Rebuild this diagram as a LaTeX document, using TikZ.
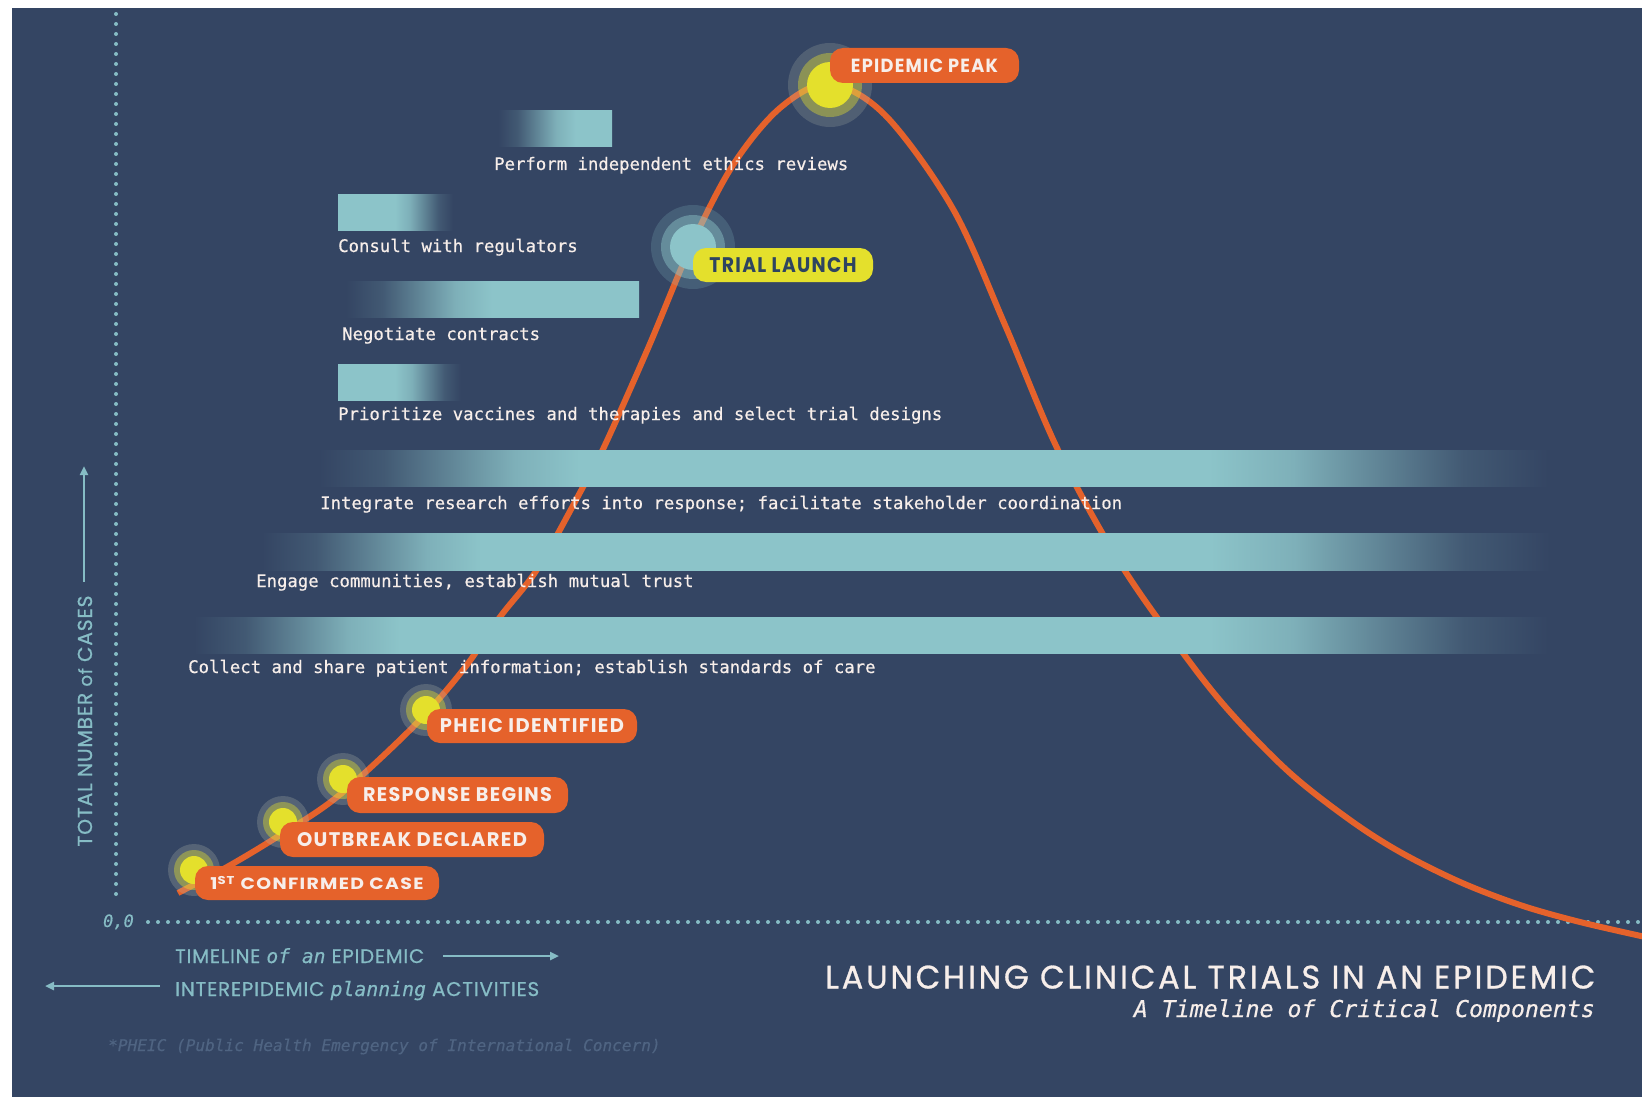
\documentclass[tikz,border=0pt]{standalone}
\usepackage{fontspec}
\usepackage{graphicx}
\setmainfont{Poppins}
\newfontfamily\monof{DejaVu Sans Mono}[FakeBold=0.5]
\newfontfamily\labf{Poppins}[LetterSpace=7]
\newfontfamily\titf{Poppins}[LetterSpace=9, FakeBold=0.9]
\newfontfamily\axf{Poppins}[LetterSpace=4, FakeBold=0.8]
\usetikzlibrary{arrows.meta}
\definecolor{bgblue}{HTML}{344563}
\definecolor{tealc}{HTML}{8CC4C9}
\definecolor{orangec}{HTML}{E5622B}
\definecolor{yellowc}{HTML}{E4E02C}
\definecolor{txtw}{HTML}{F7EEEA}
\definecolor{axisc}{HTML}{86BCC5}
\definecolor{footc}{HTML}{4F6482}
\definecolor{darkt}{HTML}{2E4460}
\definecolor{halogray}{HTML}{B8BDB0}
% one shading per activity bar (25bp..75bp span the bar), smoothstep fades
\pgfdeclarehorizontalshading{barA}{100bp}{color(0bp)=(bgblue); color(25bp)=(bgblue); color(33.5bp)=(tealc!16!bgblue); color(42bp)=(tealc!50!bgblue); color(50.5bp)=(tealc!84!bgblue); color(59bp)=(tealc); color(100bp)=(tealc)}
\pgfdeclarehorizontalshading{barB}{100bp}{color(0bp)=(tealc); color(49.8bp)=(tealc); color(56.1bp)=(tealc!84!bgblue); color(62.4bp)=(tealc!50!bgblue); color(68.7bp)=(tealc!16!bgblue); color(75bp)=(bgblue); color(100bp)=(bgblue)}
\pgfdeclarehorizontalshading{barC}{100bp}{color(0bp)=(bgblue); color(25bp)=(bgblue); color(31.2bp)=(tealc!16!bgblue); color(37.45bp)=(tealc!50!bgblue); color(43.7bp)=(tealc!84!bgblue); color(49.9bp)=(tealc); color(100bp)=(tealc)}
\pgfdeclarehorizontalshading{barD}{100bp}{color(0bp)=(tealc); color(48.2bp)=(tealc); color(54.9bp)=(tealc!84!bgblue); color(61.6bp)=(tealc!50!bgblue); color(68.3bp)=(tealc!16!bgblue); color(75bp)=(bgblue); color(100bp)=(bgblue)}
\pgfdeclarehorizontalshading{barE}{100bp}{color(0bp)=(bgblue); color(25bp)=(bgblue); color(27.65bp)=(tealc!16!bgblue); color(30.3bp)=(tealc!50!bgblue); color(32.95bp)=(tealc!84!bgblue); color(35.6bp)=(tealc); color(61.2bp)=(tealc); color(64.65bp)=(tealc!84!bgblue); color(68.1bp)=(tealc!50!bgblue); color(71.55bp)=(tealc!16!bgblue); color(75bp)=(bgblue); color(100bp)=(bgblue)}
\pgfdeclarehorizontalshading{barF}{100bp}{color(0bp)=(bgblue); color(25bp)=(bgblue); color(27.1bp)=(tealc!16!bgblue); color(29.25bp)=(tealc!50!bgblue); color(31.4bp)=(tealc!84!bgblue); color(33.5bp)=(tealc); color(61.8bp)=(tealc); color(65.1bp)=(tealc!84!bgblue); color(68.4bp)=(tealc!50!bgblue); color(71.7bp)=(tealc!16!bgblue); color(75bp)=(bgblue); color(100bp)=(bgblue)}
\pgfdeclarehorizontalshading{barG}{100bp}{color(0bp)=(bgblue); color(25bp)=(bgblue); color(26.9bp)=(tealc!16!bgblue); color(28.8bp)=(tealc!50!bgblue); color(30.7bp)=(tealc!84!bgblue); color(32.6bp)=(tealc); color(62.5bp)=(tealc); color(65.6bp)=(tealc!84!bgblue); color(68.75bp)=(tealc!50!bgblue); color(71.9bp)=(tealc!16!bgblue); color(75bp)=(bgblue); color(100bp)=(bgblue)}
\newcommand\fitbox[3]{\resizebox{#1pt}{#2pt}{#3}}
\newcommand\fitw[2]{\resizebox{#1pt}{!}{#2}}
\tikzset{
 bartext/.style={anchor=base west, inner sep=0pt, text=txtw, font=\monof\fontsize{17.3}{20}\selectfont},
 evlabel/.style={fill=orangec, rounded corners=13pt, inner sep=0pt, text=txtw, font=\labf\bfseries},
 dotpat/.style={draw=axisc, line width=4pt, line cap=round, dash pattern=on 0pt off 10pt},
 axisarrow/.style={draw=axisc, line width=2.6pt, -{Triangle[length=9pt,width=8pt]}},
}
\begin{document}
\begin{tikzpicture}[x=1pt,y=-1pt]
\useasboundingbox (0,0) rectangle (1642,1097);
\fill[white] (0,0) rectangle (1642,1097);
\fill[bgblue] (12,8) rectangle (1642,1097);

% axes
\coordinate (vtop) at (116,14);
\coordinate (vbot) at (116,895);
\draw[dotpat] (vtop) -- (vbot);
\coordinate (hl) at (148,922);
\coordinate (hr) at (1645,922);
\draw[dotpat] (hl) -- (hr);
\node[anchor=base east, inner sep=0pt, text=axisc, font=\monof\itshape\fontsize{17}{20}\selectfont] (origin) at (134,927) {0,0};

% epidemic curve
\draw[orangec, line width=6pt] plot[smooth, tension=0.55] coordinates {
 (178,893) (227,867) (277,837) (337,797) (413,727) (463,670) (500,617) (538,568)
 (583,487) (605,445) (649,346) (691,246) (733,165) (780,108) (829,84) (885,115)
 (953,209) (1005,325) (1058,450) (1120,563) (1183,653) (1230,712) (1290,773)
 (1350,820) (1400,852) (1460,882) (1520,905) (1580,922) (1650,938)};

% activity bars
\shade[shading=barA] (498,111) rectangle (612,147);
\shade[shading=barB] (338,195) rectangle (453,230);
\shade[shading=barC] (346,281) rectangle (639,317);
\shade[shading=barD] (338,364) rectangle (461,400);
\shade[shading=barE] (319,450) rectangle (1548,486);
\shade[shading=barF] (262,533) rectangle (1550,570);
\shade[shading=barG] (194,617) rectangle (1548,653);

% activity texts
\node[bartext] (t1) at (494,170) {Perform independent ethics reviews};
\node[bartext] (t2) at (338,252) {Consult with regulators};
\node[bartext] (t3) at (342,340) {Negotiate contracts};
\node[bartext] (t4) at (338,420) {Prioritize vaccines and therapies and select trial designs};
\node[bartext] (t5) at (320,509) {Integrate research efforts into response; facilitate stakeholder coordination};
\node[bartext] (t6) at (256,587) {Engage communities, establish mutual trust};
\node[bartext] (t7) at (188,673) {Collect and share patient information; establish standards of care};

% event dots
\foreach \n/\x/\y in {d1/194/870, d2/283/822, d3/343/779, d4/426/710} {
  \fill[halogray, opacity=0.25] (\x,\y) circle[radius=26pt];
  \fill[yellowc, opacity=0.4] (\x,\y) circle[radius=20pt];
  \node[circle, fill=yellowc, minimum size=28pt, inner sep=0pt] (\n) at (\x,\y) {};
}
\fill[halogray, opacity=0.22] (830,85) circle[radius=42pt];
\fill[yellowc, opacity=0.4] (830,85) circle[radius=32pt];
\node[circle, fill=yellowc, minimum size=46pt, inner sep=0pt] (peak) at (830,85) {};
\fill[tealc, opacity=0.2] (693,247) circle[radius=42pt];
\fill[tealc, opacity=0.45] (693,247) circle[radius=32pt];
\node[circle, fill=tealc, minimum size=46pt, inner sep=0pt] (trial) at (693,247) {};

% event labels
\node[evlabel, minimum width=189pt, minimum height=35pt] (peaklab) at (924.5,65.5) {\fitbox{147}{13.5}{EPIDEMIC PEAK}};
\node[evlabel, fill=yellowc, text=darkt, minimum width=180pt, minimum height=34pt] (triallab) at (783,265) {\fitbox{147}{15}{TRIAL LAUNCH}};
\node[evlabel, minimum width=210pt, minimum height=34pt] (pheiclab) at (532,726) {\fitbox{184}{14}{PHEIC IDENTIFIED}};
\node[evlabel, minimum width=221pt, minimum height=36pt] (resplab) at (457.5,795) {\fitbox{189}{14}{RESPONSE BEGINS}};
\node[evlabel, minimum width=264pt, minimum height=35pt] (outlab) at (412,839.5) {\fitbox{230}{14}{OUTBREAK DECLARED}};
\node[evlabel, minimum width=244pt, minimum height=34pt] (firstlab) at (317,883) {\fitbox{213}{14}{1\textsuperscript{ST} CONFIRMED CASE}};

% axis labels
\node[rotate=90, anchor=base, inner sep=0pt, text=axisc, font=\axf] (ylab) at (92,721) {\fitw{251}{TOTAL NUMBER {\small of} CASES}};
\coordinate (ya) at (84,582);
\coordinate (yb) at (84,466);
\draw[axisarrow] (ya) -- (yb);
\node[anchor=base west, inner sep=0pt, text=axisc, font=\axf] (tl) at (175,963) {\fitw{249}{TIMELINE {\monof\itshape of an} EPIDEMIC}};
\coordinate (ta) at (443,956);
\coordinate (tb) at (559,956);
\draw[axisarrow] (ta) -- (tb);
\node[anchor=base west, inner sep=0pt, text=axisc, font=\axf] (il) at (175,996) {\fitw{364}{INTEREPIDEMIC {\monof\itshape planning} ACTIVITIES}};
\coordinate (ia) at (160,986);
\coordinate (ib) at (45,986);
\draw[axisarrow] (ia) -- (ib);

% footnote
\node[anchor=base west, inner sep=0pt, text=footc, font=\monof\itshape\fontsize{16.1}{19}\selectfont] (foot) at (108,1051) {*PHEIC (Public Health Emergency of International Concern)};

% title
\node[anchor=base west, inner sep=0pt, text=txtw, font=\titf] (title) at (825,988.5) {\fitbox{770}{23}{LAUNCHING CLINICAL TRIALS IN AN EPIDEMIC}};
\node[anchor=base east, inner sep=0pt, text=txtw, font=\monof\itshape\fontsize{23.2}{27}\selectfont] (subtitle) at (1595,1017) {A Timeline of Critical Components};
\end{tikzpicture}
\end{document}
